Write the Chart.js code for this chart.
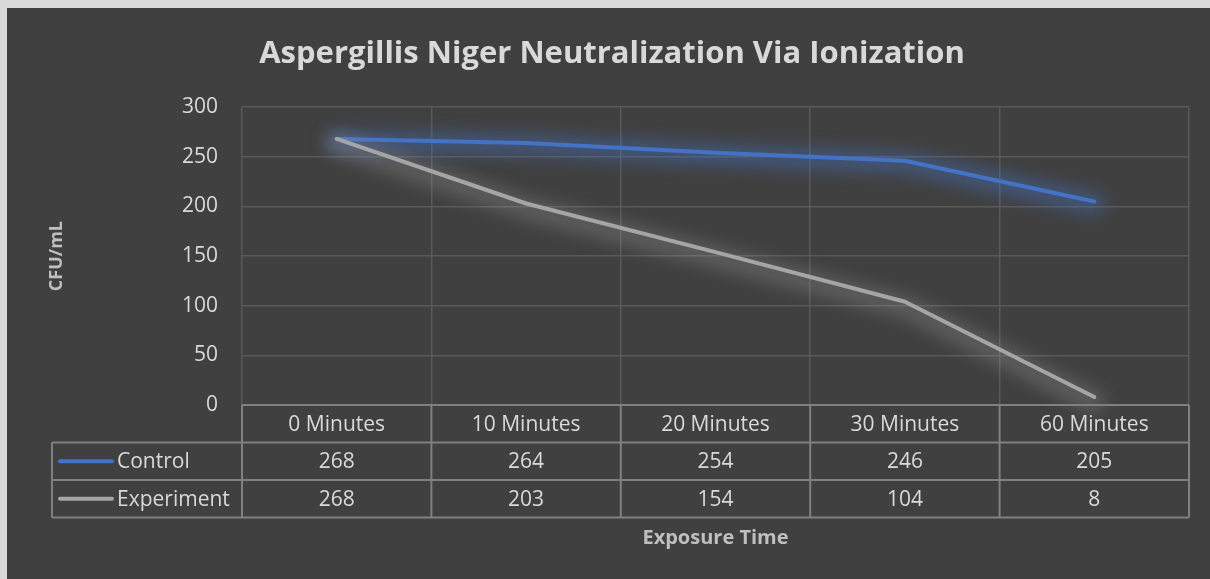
<!DOCTYPE html>
<html>
<head>
<meta charset="utf-8">
<script src="https://cdn.jsdelivr.net/npm/chart.js@4.4.0/dist/chart.umd.min.js"></script>
<style>
    html, body { margin: 0; padding: 0; background: #d9d9d9; }
    #wrap { width: 1210px; height: 579px; }
</style>
</head>
<body>
<div id="wrap"><canvas id="canvas"></canvas></div>
<script>
const categories = ['0 Minutes', '10 Minutes', '20 Minutes', '30 Minutes', '60 Minutes'];
const seriesNames = ['Control', 'Experiment'];
const controlValues = [268, 264, 254, 246, 205];
const experimentValues = [268, 203, 154, 104, 8];
const yMin = 0, yMax = 300, yStep = 50;

const FONT = "'Open Sans', 'Noto Sans', sans-serif";
const colors = {
    bg: '#404040',
    frame: '#d9d9d9',
    text: '#d9d9d9',
    axisTitle: '#bfbfbf',
    grid: '#595959',
    table: '#808080',
    blue: '#4472c4',
    grey: '#a5a5a5',
};

// paint the dark chart background with the light frame at the top/left
const backgroundPlugin = {
    id: 'background',
    beforeDraw(chart) {
        const ctx = chart.ctx;
        ctx.save();
        ctx.fillStyle = colors.frame;
        ctx.fillRect(0, 0, chart.width, chart.height);
        ctx.fillStyle = colors.bg;
        ctx.fillRect(7, 8, chart.width - 7, chart.height - 8);
        ctx.restore();
    }
};

// Excel-like soft glow: a wide blurred stroke under each line,
// following the points the line controller has placed
const glowPlugin = {
    id: 'glow',
    beforeDatasetDraw(chart, args) {
        const ds = chart.data.datasets[args.index];
        const pts = args.meta.data;
        const ctx = chart.ctx;
        ctx.save();
        ctx.filter = 'blur(8px)';
        ctx.strokeStyle = ds.glowColor;
        ctx.lineWidth = 22;
        ctx.lineCap = 'round';
        ctx.lineJoin = 'round';
        ctx.beginPath();
        pts.forEach((p, i) => {
            if (i === 0) ctx.moveTo(p.x, p.y + ds.glowShift);
            else ctx.lineTo(p.x, p.y + ds.glowShift);
        });
        ctx.stroke();
        ctx.restore();
    }
};

// data table under the plot, columns follow the x scale
const tablePlugin = {
    id: 'dataTable',
    afterDraw(chart) {
        const { ctx, chartArea } = chart;
        const x = chart.scales.x;
        const rowH = 37.5;
        const top = chartArea.bottom;
        const tableLeft = 52;
        const colW = (x.right - x.left) / categories.length;

        ctx.save();
        ctx.strokeStyle = colors.table;
        ctx.lineWidth = 2;

        // horizontal lines
        ctx.beginPath();
        ctx.moveTo(x.left, top); ctx.lineTo(x.right, top);
        for (let r = 1; r <= 3; r++) {
            ctx.moveTo(tableLeft, top + r * rowH);
            ctx.lineTo(x.right, top + r * rowH);
        }
        // vertical lines
        for (let k = 0; k <= categories.length; k++) {
            const px = x.left + k * colW;
            ctx.moveTo(px, top);
            ctx.lineTo(px, top + 3 * rowH);
        }
        ctx.moveTo(tableLeft, top + rowH);
        ctx.lineTo(tableLeft, top + 3 * rowH);
        ctx.stroke();

        ctx.fillStyle = colors.text;
        ctx.font = '21px ' + FONT;
        ctx.textAlign = 'center';
        ctx.textBaseline = 'middle';
        categories.forEach((c, i) => {
            ctx.fillText(c, x.getPixelForValue(i), top + rowH / 2 + 1);
        });

        chart.data.datasets.forEach((ds, r) => {
            const cy = top + (r + 1.5) * rowH;
            ds.data.forEach((v, i) => {
                ctx.textAlign = 'center';
                ctx.fillText(String(v), x.getPixelForValue(i), cy + 1);
            });
            // legend key
            ctx.save();
            ctx.strokeStyle = ds.borderColor;
            ctx.lineWidth = 4;
            ctx.lineCap = 'round';
            ctx.beginPath();
            ctx.moveTo(60, cy);
            ctx.lineTo(112, cy);
            ctx.stroke();
            ctx.restore();
            ctx.textAlign = 'left';
            ctx.fillText(ds.label, 117, cy + 1);
        });
        ctx.restore();
    }
};

const chartConfig = {
    type: 'line',
    data: {
        labels: categories,
        datasets: [
            {
                label: seriesNames[0],
                data: controlValues,
                borderColor: colors.blue,
                glowColor: 'rgba(68, 114, 196, 0.42)',
                glowShift: 2,
                order: 1,
            },
            {
                label: seriesNames[1],
                data: experimentValues,
                borderColor: colors.grey,
                glowColor: 'rgba(165, 165, 165, 0.28)',
                glowShift: 5,
                order: 0,
            },
        ],
    },
    options: {
        responsive: true,
        maintainAspectRatio: false,
        animation: false,
        layout: {
            padding: { left: 35, right: 21, top: 0, bottom: 0 },
        },
        elements: {
            line: {
                borderWidth: 4,
                borderCapStyle: 'round',
                borderJoinStyle: 'round',
                tension: 0,
                fill: false,
            },
            point: { radius: 0, hoverRadius: 0 },
        },
        plugins: {
            legend: { display: false },
            tooltip: { enabled: false },
            title: {
                display: true,
                text: 'Aspergillis Niger Neutralization Via Ionization',
                color: colors.text,
                font: { family: FONT, size: 31, weight: 'bold' },
                padding: { top: 36, bottom: 34 },
            },
        },
        scales: {
            x: {
                offset: true,
                grid: { color: colors.grid, lineWidth: 1.5, offset: true, drawTicks: false },
                border: { display: false },
                ticks: { display: false },
                title: {
                    display: true,
                    text: 'Exposure Time',
                    color: colors.axisTitle,
                    font: { family: FONT, size: 20, weight: 'bold' },
                    padding: { top: 121, bottom: 29 },
                },
            },
            y: {
                min: yMin,
                max: yMax,
                grid: { color: colors.grid, lineWidth: 1.5, drawTicks: false },
                border: { display: false },
                ticks: {
                    stepSize: yStep,
                    color: colors.text,
                    padding: 24,
                    font: { family: FONT, size: 21 },
                },
                title: {
                    display: true,
                    text: 'CFU/mL',
                    color: colors.axisTitle,
                    font: { family: FONT, size: 18, weight: 'bold' },
                    padding: { top: 11, bottom: 0 },
                },
                afterFit(scale) {
                    scale.width = 207;
                },
            },
        },
    },
    plugins: [backgroundPlugin, glowPlugin, tablePlugin],
};

new Chart(document.getElementById('canvas'), chartConfig);
</script>
</body>
</html>
